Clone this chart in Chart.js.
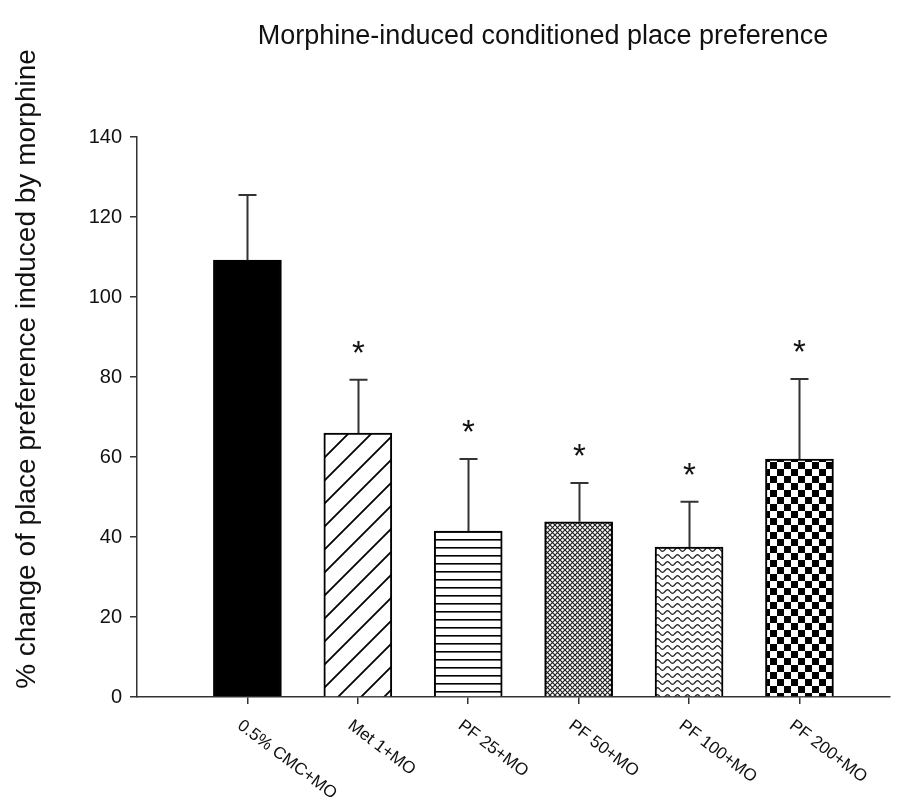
<!DOCTYPE html>
<html>
<head>
<meta charset="utf-8">
<title>Morphine-induced conditioned place preference</title>
<script src="https://cdn.jsdelivr.net/npm/chart.js@4/dist/chart.umd.min.js"></script>
<style>
  body { margin: 0; background: #fff; }
  #cpp { display: block; }
</style>
</head>
<body>
<canvas id="cpp" width="912" height="810"></canvas>
<script>
// groups and % change in place preference (mean, SEM)
const groups = ['0.5% CMC+MO', 'Met 1+MO', 'PF 25+MO', 'PF 50+MO', 'PF 100+MO', 'PF 200+MO'];
const meanChange = [109.2, 66, 41.5, 43.8, 37.5, 59.5];
const semChange = [16.3, 13.3, 18, 9.7, 11.3, 20];
const significant = [false, true, true, true, true, true];
const yMax = 140;
const yStep = 20;

const FONT = "'Liberation Sans', Arial, sans-serif";
const INK = '#111';

// fill patterns, one per group
function tile(w, h, draw) {
  const c = document.createElement('canvas');
  c.width = w; c.height = h;
  const g = c.getContext('2d');
  g.fillStyle = '#fff';
  g.fillRect(0, 0, w, h);
  draw(g, w, h);
  return g.createPattern(c, 'repeat');
}

const diagonal = tile(23, 23, (g, w, h) => {
  g.strokeStyle = '#000';
  g.lineWidth = 1.8;
  g.beginPath();
  g.moveTo(-2, h + 2); g.lineTo(w + 2, -2);
  g.moveTo(-2, 2); g.lineTo(2, -2);
  g.moveTo(w - 2, h + 2); g.lineTo(w + 2, h - 2);
  g.stroke();
});

const horizontal = tile(8, 8, (g, w) => {
  g.fillStyle = '#000';
  g.fillRect(0, 3, w, 1.6);
});

const crosshatch = tile(5, 5, (g, w, h) => {
  g.strokeStyle = '#222';
  g.lineWidth = 1.2;
  g.beginPath();
  g.moveTo(0, 0); g.lineTo(w, h);
  g.moveTo(w, 0); g.lineTo(0, h);
  g.stroke();
});

const wavy = tile(10, 7, (g, w, h) => {
  g.strokeStyle = '#222';
  g.lineWidth = 1.3;
  g.beginPath();
  for (let x = 0; x <= w; x += 0.5) {
    const y = 3.5 + 1.8 * Math.sin((x / w) * Math.PI * 2);
    if (x === 0) g.moveTo(x, y); else g.lineTo(x, y);
  }
  g.stroke();
});

const checker = tile(14, 14, (g) => {
  g.fillStyle = '#000';
  g.fillRect(0, 0, 7, 7);
  g.fillRect(7, 7, 7, 7);
});

const fills = ['#000', diagonal, horizontal, crosshatch, wavy, checker];

// error bars, significance stars, titles and slanted group labels
const annotations = {
  id: 'annotations',
  afterDatasetsDraw(chart) {
    const { ctx, scales: { x, y }, chartArea } = chart;
    ctx.save();

    // upper error bars
    ctx.strokeStyle = '#333';
    ctx.lineWidth = 2;
    meanChange.forEach((m, i) => {
      const px = Math.round(x.getPixelForValue(i + 1)) + 0.5;
      const top = y.getPixelForValue(m + semChange[i]);
      const base = y.getPixelForValue(m);
      ctx.beginPath();
      ctx.moveTo(px, base);
      ctx.lineTo(px, top);
      ctx.moveTo(px - 9, top);
      ctx.lineTo(px + 9, top);
      ctx.stroke();

      if (significant[i]) {
        ctx.fillStyle = INK;
        ctx.font = '33px ' + FONT;
        ctx.textAlign = 'center';
        ctx.textBaseline = 'alphabetic';
        ctx.fillText('*', px, top - 35 + 19);
      }
    });

    // group labels, slanted down to the right
    ctx.fillStyle = INK;
    ctx.font = '17px ' + FONT;
    ctx.textAlign = 'left';
    ctx.textBaseline = 'top';
    groups.forEach((name, i) => {
      const px = x.getPixelForValue(i + 1);
      ctx.save();
      ctx.translate(px - 3, chartArea.bottom + 20);
      ctx.rotate(37 * Math.PI / 180);
      ctx.fillText(name, 0, 0);
      ctx.restore();
    });

    // chart title
    ctx.font = '27px ' + FONT;
    ctx.textAlign = 'center';
    ctx.textBaseline = 'middle';
    ctx.fillText('Morphine-induced conditioned place preference', 543, 37);

    // y axis title
    ctx.save();
    ctx.translate(27, 369);
    ctx.rotate(-Math.PI / 2);
    ctx.font = '28px ' + FONT;
    ctx.fillText('% change of place preference induced by morphine', 0, 0);
    ctx.restore();

    ctx.restore();
  }
};

new Chart(document.getElementById('cpp'), {
  type: 'bar',
  data: {
    datasets: [{
      label: '% change',
      data: meanChange.map((v, i) => ({ x: i + 1, y: v })),
      backgroundColor: fills,
      borderColor: '#000',
      borderWidth: 2,
      borderSkipped: 'bottom',
      barThickness: 68
    }]
  },
  options: {
    responsive: false,
    animation: false,
    layout: { padding: { top: 137, right: 22, left: 0, bottom: 0 } },
    plugins: {
      legend: { display: false },
      tooltip: { enabled: false }
    },
    scales: {
      x: {
        type: 'linear',
        min: 0,
        max: 6.82,
        offset: false,
        ticks: { display: false, stepSize: 1 },
        afterBuildTicks: s => { s.ticks = s.ticks.filter(t => Number.isInteger(t.value) && t.value >= 1); },
        afterFit: s => { s.height = 113; },
        grid: { display: true, offset: false, drawOnChartArea: false, drawTicks: true, tickLength: 7, color: '#333', lineWidth: 1.5 },
        border: { display: true, color: '#333', width: 1.5 }
      },
      y: {
        min: 0,
        max: yMax,
        ticks: { stepSize: yStep, color: INK, padding: 8, font: { family: FONT, size: 20 } },
        afterFit: s => { s.width = 137; },
        grid: { display: true, drawOnChartArea: false, drawTicks: true, tickLength: 7, color: '#333', lineWidth: 1.5 },
        border: { display: true, color: '#333', width: 1.5 }
      }
    }
  },
  plugins: [annotations]
});
</script>
</body>
</html>
